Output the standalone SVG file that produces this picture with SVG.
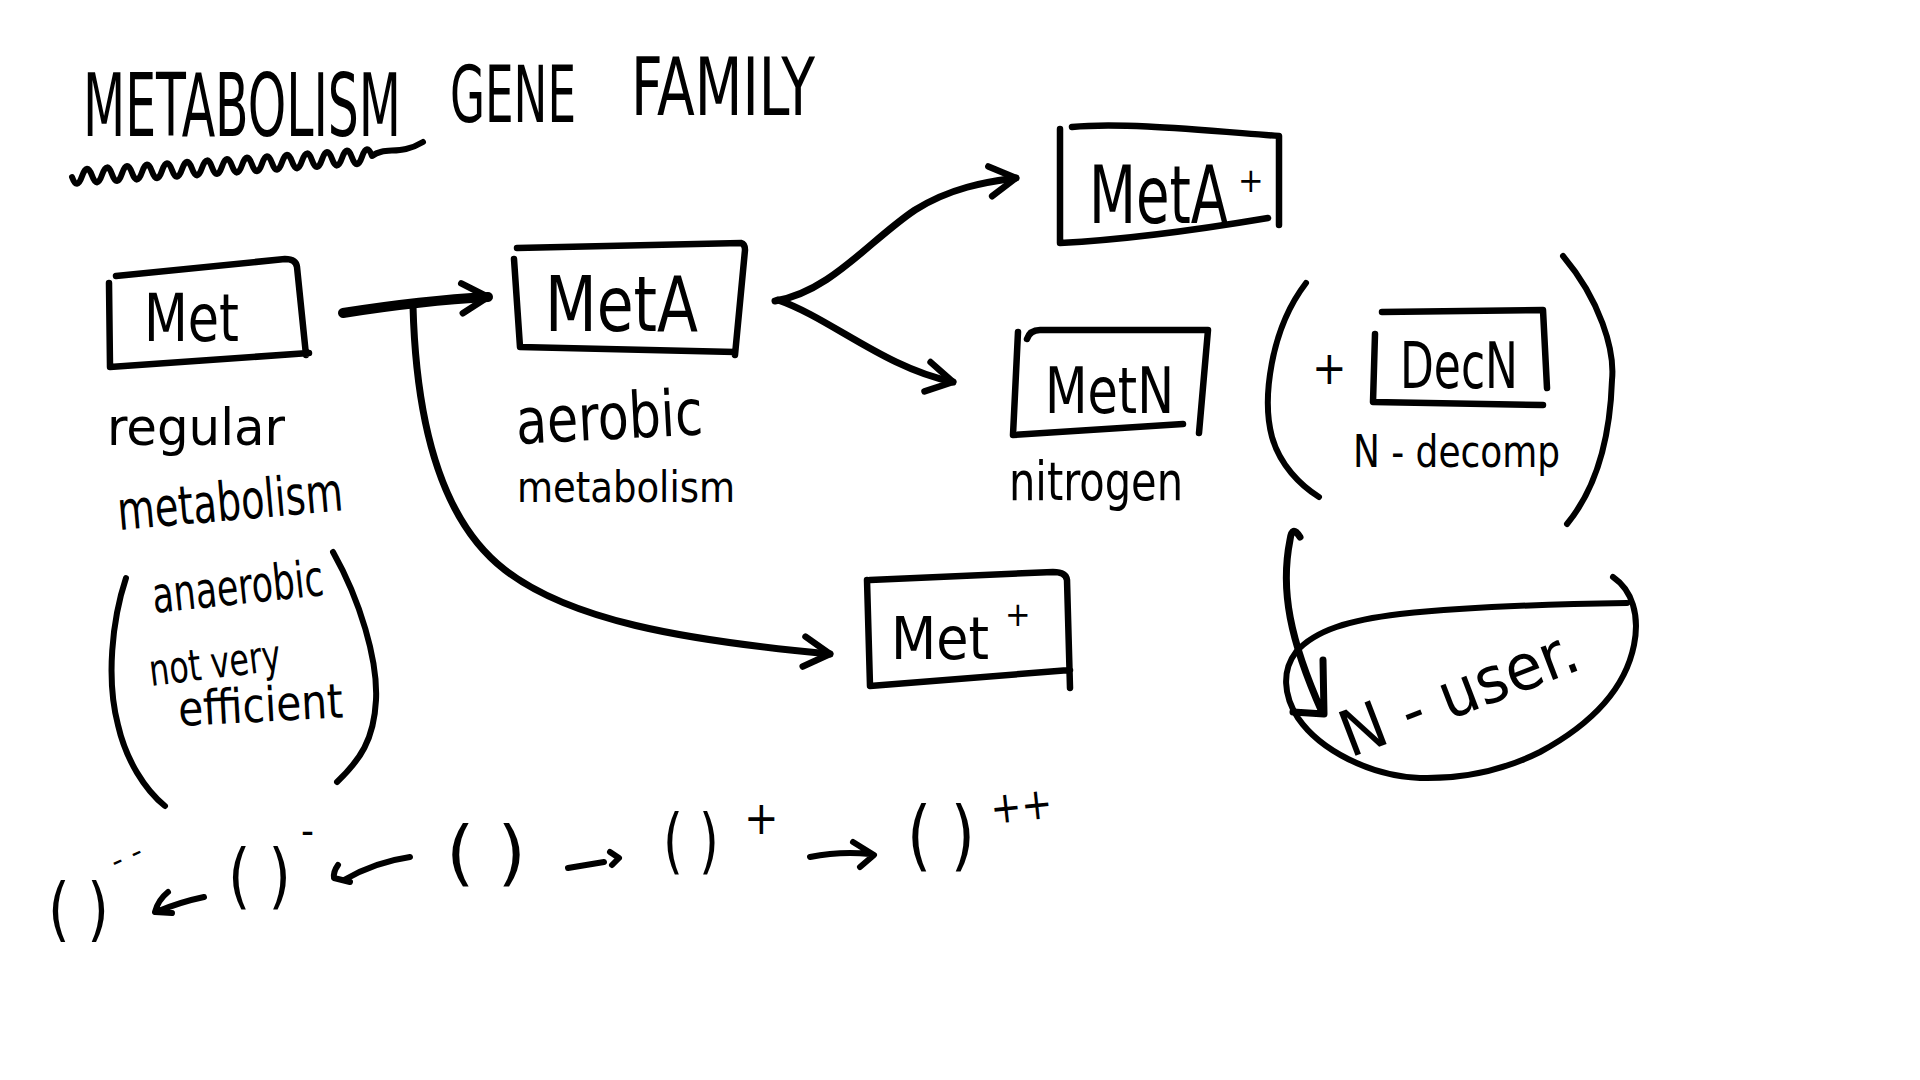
<svg xmlns="http://www.w3.org/2000/svg" width="1920" height="1080" viewBox="0 0 1920 1080">
<defs>
<style>
.ink{fill:none;stroke:#000;stroke-width:6;stroke-linecap:round;stroke-linejoin:round}
.box{fill:none;stroke:#000;stroke-width:6.5;stroke-linecap:round;stroke-linejoin:round}
.con{fill:none;stroke:#000;stroke-width:7;stroke-linecap:round;stroke-linejoin:round}
.hand{font-family:"Liberation Sans Narrow","DejaVu Sans Condensed","Liberation Sans",sans-serif;fill:#000}
</style>
<marker id="head" viewBox="-32 -20 36 40" refX="0" refY="0" markerWidth="36" markerHeight="40" markerUnits="userSpaceOnUse" orient="auto" overflow="visible">
<path d="M-26,-15 L0,0 L-26,15" fill="none" stroke="#000" stroke-width="6.5" stroke-linecap="round" stroke-linejoin="round"/>
</marker>
</defs>
<rect width="1920" height="1080" fill="#fff"/>

<g id="title">
<text class="hand" transform="translate(83,136) scale(1,1.65)" font-size="53" textLength="318" lengthAdjust="spacingAndGlyphs">METABOLISM</text>
<text class="hand" x="450" y="122" font-size="78" textLength="126" lengthAdjust="spacingAndGlyphs">GENE</text>
<text class="hand" x="631" y="115" font-size="80" textLength="184" lengthAdjust="spacingAndGlyphs">FAMILY</text>
<path class="ink" d="M72,177 Q77,191 82,176.3 T92,175.6 T102,174.9 T112,174.2 T122,173.5 T132,172.8 T142,172.1 T152,171.4 T162,170.7 T172,170 T182,169.3 T192,168.6 T202,167.9 T212,167.2 T222,166.5 T232,165.8 T242,165.1 T252,164.4 T262,163.7 T272,163 T282,162.3 T292,161.6 T302,160.9 T312,160.2 T322,159.5 T332,158.8 T342,158.1 T352,157.4 T362,156.7 T372,156 C385,146 400,156 423,142"/>
</g>

<g id="node-met">
<path class="box" d="M116,276 L285,259 Q296,259 297,267 L306,355 M109,283 L110,367 L309,353"/>
<text class="hand" x="144" y="341" font-size="66" textLength="95" lengthAdjust="spacingAndGlyphs">Met</text>
<text class="hand" x="107" y="445" font-size="52" textLength="178" lengthAdjust="spacingAndGlyphs">regular</text>
<text class="hand" x="119" y="530" font-size="54" textLength="226" lengthAdjust="spacingAndGlyphs" transform="rotate(-5 119 530)">metabolism</text>
</g>

<g id="note-anaerobic">
<path class="ink" d="M126,578 C112,620 106,680 118,725 C126,760 145,790 165,806"/>
<path class="ink" d="M333,552 C360,600 378,660 376,700 C374,740 360,760 337,782"/>
<text class="hand" x="154" y="613" font-size="50" textLength="172" lengthAdjust="spacingAndGlyphs" transform="rotate(-6 154 613)">anaerobic</text>
<text class="hand" x="151" y="686" font-size="44" textLength="132" lengthAdjust="spacingAndGlyphs" transform="rotate(-7 151 686)">not very</text>
<text class="hand" x="179" y="726" font-size="48" textLength="165" lengthAdjust="spacingAndGlyphs" transform="rotate(-3 179 726)">efficient</text>
</g>

<g id="node-meta">
<path class="box" d="M517,248 L741,243 Q745,244 745,250 L735,355 M514,259 L520,347 L735,352"/>
<text class="hand" x="545" y="331" font-size="76" textLength="153" lengthAdjust="spacingAndGlyphs">MetA</text>
<text class="hand" x="517" y="444" font-size="64" textLength="187" lengthAdjust="spacingAndGlyphs" transform="rotate(-3 517 444)">aerobic</text>
<text class="hand" x="517" y="502" font-size="42" textLength="218" lengthAdjust="spacingAndGlyphs">metabolism</text>
</g>

<g id="node-metaplus">
<path class="box" d="M1072,127 C1120,122 1200,130 1279,136 L1279,225 M1060,129 L1060,243 C1100,241 1161,236 1268,218"/>
<text class="hand" transform="translate(1089,223) scale(1,1.33)" font-size="60" textLength="139" lengthAdjust="spacingAndGlyphs">MetA</text>
<text class="hand" x="1238" y="192" font-size="34">+</text>
</g>

<g id="node-metn">
<path class="box" d="M1027,339 Q1030,330 1040,330 L1208,330 L1199,433 M1018,332 L1013,435 L1183,424"/>
<text class="hand" x="1045" y="413" font-size="64" textLength="129" lengthAdjust="spacingAndGlyphs">MetN</text>
<text class="hand" x="1009" y="500" font-size="54" textLength="174" lengthAdjust="spacingAndGlyphs">nitrogen</text>
</g>

<g id="node-decn">
<path class="ink" d="M1306,283 C1270,330 1262,400 1272,437 C1280,465 1300,485 1319,497"/>
<path class="ink" d="M1563,256 C1600,300 1615,350 1612,380 C1610,440 1595,490 1567,524"/>
<text class="hand" x="1312" y="384" font-size="46">+</text>
<path class="box" d="M1382,312 L1543,310 L1547,388 M1375,334 L1373,402 L1543,405"/>
<text class="hand" x="1400" y="388" font-size="64" textLength="118" lengthAdjust="spacingAndGlyphs">DecN</text>
<text class="hand" x="1353" y="467" font-size="44" textLength="207" lengthAdjust="spacingAndGlyphs">N - decomp</text>
</g>

<g id="node-metplus">
<path class="box" d="M870,580 L1053,572 Q1066,572 1067,580 L1070,688 M867,580 L870,686 L1070,670"/>
<text class="hand" x="891" y="659" font-size="58" textLength="98" lengthAdjust="spacingAndGlyphs">Met</text>
<text class="hand" x="1005" y="626" font-size="34">+</text>
</g>

<g id="node-nuser">
<path class="ink" d="M1613,577 C1632,590 1640,615 1634,645 C1625,690 1590,725 1540,752 C1500,772 1460,779 1420,778 C1370,776 1320,750 1298,718 C1283,695 1282,670 1296,652 C1315,630 1350,620 1400,614 C1470,607 1550,604 1627,603"/>
<text class="hand" x="1350" y="758" font-size="64" textLength="250" lengthAdjust="spacingAndGlyphs" transform="rotate(-21 1350 758)">N - user.</text>
</g>

<g id="connectors">
<path class="con" style="stroke-width:10" d="M343,313 C400,304 450,299 488,297" marker-end="url(#head)"/>
<path class="con" d="M413,306 C416,420 440,520 505,570 C570,620 680,640 830,654" marker-end="url(#head)"/>
<path class="con" d="M775,301 C830,292 870,240 915,210 C950,188 985,182 1016,178" marker-end="url(#head)"/>
<path class="con" d="M778,300 C830,318 885,368 953,382" marker-end="url(#head)"/>
<path class="con" d="M1300,537 Q1292,524 1290,540 C1280,590 1290,640 1322,712 M1293,712 L1324,714 L1323,660"/>
</g>

<g id="scale-row">
<text class="hand" x="48" y="933" font-size="70" textLength="61" lengthAdjust="spacingAndGlyphs">( )</text>
<text class="hand" x="116" y="872" font-size="30" textLength="32" lengthAdjust="spacingAndGlyphs" transform="rotate(-25 116 872)">- -</text>
<text class="hand" x="228" y="900" font-size="72" textLength="63" lengthAdjust="spacingAndGlyphs">( )</text>
<text class="hand" x="301" y="845" font-size="40">-</text>
<text class="hand" x="446" y="877" font-size="72" textLength="80" lengthAdjust="spacingAndGlyphs">( )</text>
<text class="hand" x="663" y="865" font-size="72" textLength="56" lengthAdjust="spacingAndGlyphs">( )</text>
<text class="hand" x="744" y="834" font-size="46">+</text>
<text class="hand" x="907" y="861" font-size="76" textLength="68" lengthAdjust="spacingAndGlyphs">( )</text>
<text class="hand" x="992" y="824" font-size="44" textLength="62" lengthAdjust="spacingAndGlyphs" transform="rotate(-6 992 824)">++</text>
<path class="ink" d="M204,897 Q180,902 156,912 M168,892 Q158,900 155,912 L172,913"/>
<path class="ink" d="M410,857 Q375,862 344,880 M338,865 Q333,872 334,878 L350,882"/>
<path class="ink" d="M568,868 L604,862 M610,852 L619,858 L612,865"/>
<path class="ink" d="M810,857 Q840,851 870,854 M853,842 L874,855 L860,867"/>
</g>
</svg>
